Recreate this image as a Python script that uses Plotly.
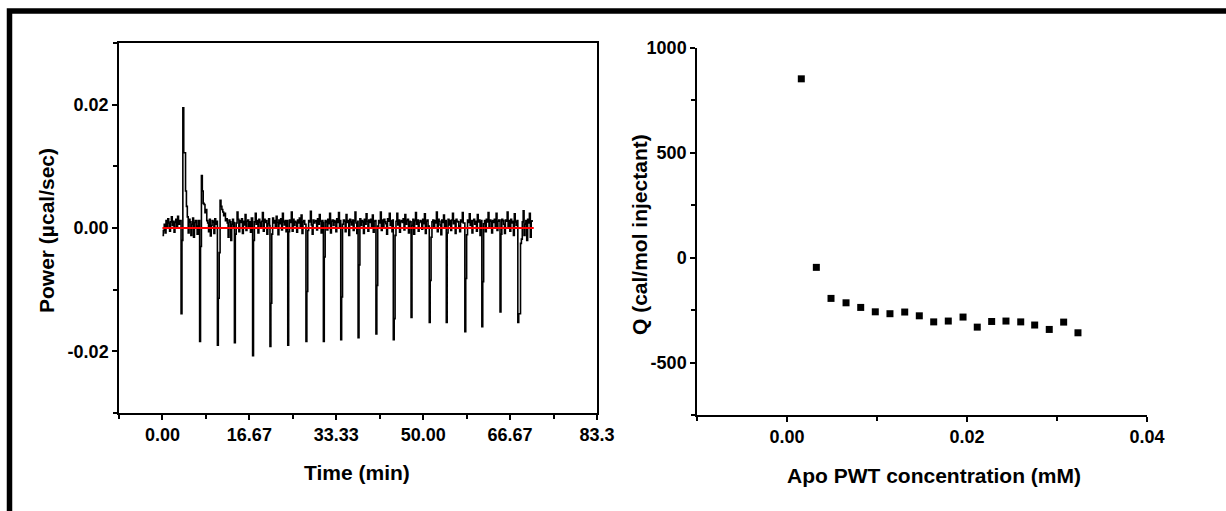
import plotly.graph_objects as go

W, H = 1226, 511

# ---------------- Left panel: raw ITC thermogram ----------------
# power values are stored in units of 1e-4 µcal/sec
sample_interval_min = 0.171

pre_injection_power_e4 = [-12, -4, 6, -8, 12, 3, 15, 8, -5, 10, 18, 4, 11, -7, 9, 14, 2, 19, 6, 12]

injection_times = [3.57, 7.13, 10.54, 13.80, 17.29, 20.62, 24.03, 27.52, 30.86, 34.19,
                   37.52, 40.94, 44.27, 47.68, 51.17, 54.43, 57.99, 61.25, 64.74, 68.15]

injection_power_e4 = [
    [-139, -20, 195, 122, 122, 60, 35, 18, -8, 14, 10, -12, 6, 16, -15, 9, 12, 3, -10, 12],
    [-184, -30, 85, 60, 40, 38, 25, 30, 12, 8, -6, 14, -13, 4, 12, 10, -9, 15, 6, 11],
    [-190, -114, -40, 45, 35, 30, 26, 20, 24, 12, 15, 8, -15, 13, 10, -20, 6, 14, 3, 9],
    [-186, -10, 8, 26, 14, -6, 12, 9, 15, -9, 11, 5, 22, -4, 11, 13, 2, 10, -7, 16],
    [-207, -20, 10, 24, 6, 12, -8, 14, 9, 3, 11, 25, -5, 14, 9, 12, -10, 7, 15, 4],
    [-192, -122, -10, 16, 8, 12, 2, 19, 9, -11, 13, 7, 15, -3, 24, 10, 5, 12, -6, 12],
    [-190, -6, 13, 9, 26, -5, 14, 4, 11, 9, -7, 13, 8, 16, 2, 21, -9, 10, 12, 6],
    [-184, -103, -4, 12, 10, 27, 5, -10, 13, 8, 11, 12, -3, 15, 6, 22, 11, -8, 12, 9],
    [-184, -47, 12, 10, -3, 14, 7, 24, -8, 11, 13, 4, 12, 10, -6, 15, 9, 25, 1, 12],
    [-181, -112, 6, 13, 11, -6, 22, 9, 12, -12, 14, 10, 5, 13, -4, 12, 26, 8, -9, 11],
    [-178, -60, 15, 4, 12, 10, -9, 14, 6, 23, 11, -5, 13, 9, 14, 2, 21, -7, 11, 12],
    [-172, -93, 3, 12, 8, 26, -4, 13, 2, 14, 10, 7, -10, 15, 11, 24, 4, 12, -6, 13],
    [-181, -147, -12, 11, 24, 5, 13, -7, 11, 12, 9, 15, -3, 22, 6, 12, 14, -8, 11, 10],
    [-145, 4, 14, -10, 12, 25, 6, 13, -5, 9, 12, 11, -2, 14, 7, 23, -9, 11, 13, 3],
    [-153, -85, -15, 10, 13, 3, 12, 8, 26, -6, 14, 11, 5, -11, 13, 9, 21, 1, 12, 10],
    [-153, -8, 14, 5, 12, -4, 13, 24, 7, 12, -9, 14, 11, 10, 3, -6, 13, 10, 25, 8],
    [-168, -82, -11, 13, 9, 23, 4, 12, -8, 12, 14, 6, 11, -5, 22, 10, 13, -12, 11, 12],
    [-160, -87, 7, 12, -6, 14, 10, 25, 3, 13, 11, -8, 12, 9, 14, 2, 24, -4, 11, 13],
    [-136, -10, 14, 12, 6, -9, 13, 11, 26, 2, 12, -5, 14, 8, 11, -12, 23, 10, 4, 12],
    [-153, -139, -139, -25, -18, 10, 28, -12, 6, 12, -20, 14, 8, 24, -15, 11, 13],
]

baseline_time = [0.0, 71.2]
baseline_power = [0.0, 0.0]

time_ticks = [0, 16.667, 33.333, 50, 66.667, 83.333]
time_tick_labels = ["0.00", "16.67", "33.33", "50.00", "66.67", "83.3"]
time_minor_ticks = [-8.333, 8.333, 25, 41.667, 58.333, 75]
power_ticks = [0.02, 0.0, -0.02]
power_tick_labels = ["0.02", "0.00", "-0.02"]
power_minor_ticks = [0.03, 0.01, -0.01, -0.03]

# ---------------- Right panel: integrated heats ----------------
concentration_mM = [0.00159, 0.00326, 0.00489, 0.00656, 0.00819, 0.00981, 0.01144, 0.01308,
                    0.01470, 0.01630, 0.01792, 0.01956, 0.02114, 0.02274, 0.02433, 0.02597,
                    0.02752, 0.02914, 0.03074, 0.03233]
q_cal_per_mol = [853, -46, -194, -215, -237, -258, -267, -259, -277, -306,
                 -302, -283, -331, -304, -302, -306, -321, -342, -307, -358]

conc_ticks = [0.0, 0.02, 0.04]
conc_tick_labels = ["0.00", "0.02", "0.04"]
conc_minor_ticks = [-0.01, 0.01, 0.03]
q_ticks = [1000, 500, 0, -500]
q_tick_labels = ["1000", "500", "0", "-500"]
q_minor_ticks = [750, 250, -250, -750]

# ---------------- Build thermogram trace ----------------
time_min, power = [], []
for k, v in enumerate(pre_injection_power_e4):
    time_min.append(k * sample_interval_min)
    power.append(v * 1e-4)
for t0, seg in zip(injection_times, injection_power_e4):
    for k, v in enumerate(seg):
        time_min.append(t0 + k * sample_interval_min)
        power.append(v * 1e-4)

FONT = "Liberation Sans, Arial, sans-serif"
tickfont = dict(family=FONT, size=18, color="black", weight="bold")


def px(x):
    return x / W


def py(y):
    return 1 - y / H


fig = go.Figure()
fig.add_trace(go.Scatter(x=time_min, y=power, mode="lines", line=dict(color="black", width=1.6, shape="hv"),
                         xaxis="x", yaxis="y", hoverinfo="skip"))
fig.add_trace(go.Scatter(x=baseline_time, y=baseline_power, mode="lines", line=dict(color="#ff0000", width=1.8),
                         xaxis="x", yaxis="y"))
fig.add_trace(go.Scatter(x=concentration_mM, y=q_cal_per_mol, mode="markers",
                         marker=dict(symbol="square", size=7, color="black", line=dict(width=0)),
                         xaxis="x2", yaxis="y2"))

axis_common = dict(showgrid=False, zeroline=False, showline=True, linecolor="black", linewidth=1.5,
                   ticks="outside", tickcolor="black", tickwidth=1.5, ticklen=5, tickfont=tickfont,
                   automargin=False)
minor_common = dict(ticks="outside", ticklen=4, tickcolor="black", tickwidth=1.5)

fig.update_layout(
    width=W, height=H,
    margin=dict(l=0, r=0, t=0, b=0),
    paper_bgcolor="white", plot_bgcolor="white",
    showlegend=False,
    xaxis=dict(domain=[px(119), px(597)], range=[-8.333, 83.333], tickvals=time_ticks, ticktext=time_tick_labels,
               minor=dict(tickvals=time_minor_ticks, **minor_common), mirror=True, anchor="y", **axis_common),
    yaxis=dict(domain=[py(413), py(43)], range=[-0.03, 0.03], tickvals=power_ticks, ticktext=power_tick_labels,
               minor=dict(tickvals=power_minor_ticks, **minor_common), mirror=True, anchor="x", **axis_common),
    xaxis2=dict(domain=[px(697), px(1147)], range=[-0.01, 0.04], tickvals=conc_ticks, ticktext=conc_tick_labels,
                minor=dict(tickvals=conc_minor_ticks, **minor_common), anchor="y2", **axis_common),
    yaxis2=dict(domain=[py(415), py(48)], range=[-750, 1000], tickvals=q_ticks, ticktext=q_tick_labels,
                minor=dict(tickvals=q_minor_ticks, **minor_common), anchor="x2", **axis_common),
)

titlefont = dict(family=FONT, size=21, color="black", weight="bold")
annotations = [
    dict(text="Time (min)", x=px(357), y=py(472), xref="paper", yref="paper", showarrow=False,
         xanchor="center", yanchor="middle", font=titlefont),
    dict(text="Power (µcal/sec)", x=px(46), y=py(231), xref="paper", yref="paper", showarrow=False,
         xanchor="center", yanchor="middle", textangle=-90, font=titlefont),
    dict(text="Q (cal/mol injectant)", x=px(639), y=py(235), xref="paper", yref="paper", showarrow=False,
         xanchor="center", yanchor="middle", textangle=-90, font=titlefont),
    dict(text="Apo PWT concentration (mM)", x=px(934), y=py(475), xref="paper", yref="paper", showarrow=False,
         xanchor="center", yanchor="middle", font=titlefont),
]
fig.update_layout(annotations=annotations)

# Thick figure frame (top and left edges visible in the cropped original)
fig.add_shape(type="path", xref="paper", yref="paper",
              path=f"M {px(9.5)},{py(560)} L {px(9.5)},{py(11)} L {px(1300)},{py(11)}",
              line=dict(color="black", width=5.5))

fig.write_html("out.html")
